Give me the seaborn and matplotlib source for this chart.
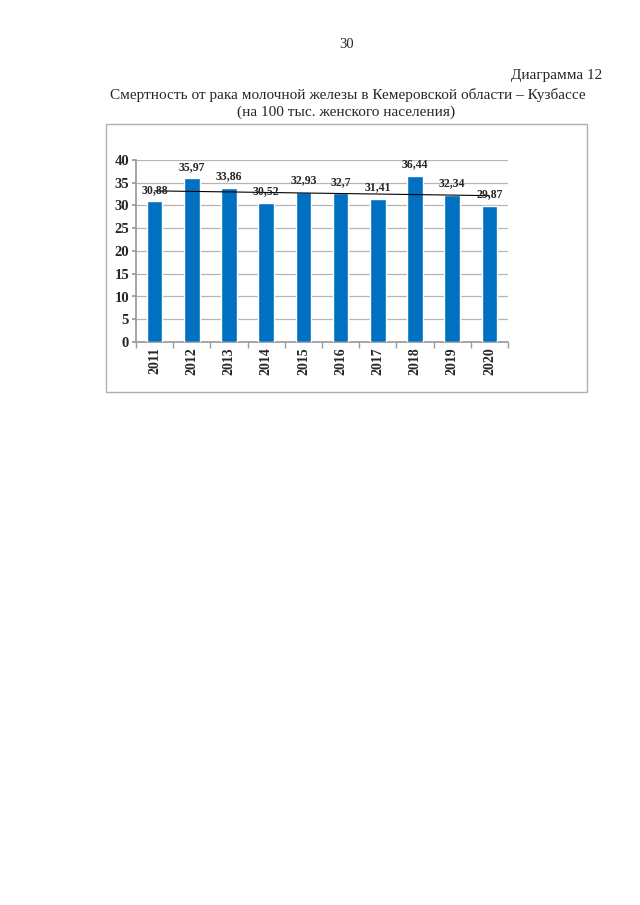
import numpy as np
import pandas as pd
import seaborn as sns
import matplotlib.pyplot as plt
from matplotlib.patches import Rectangle

years = ['2011', '2012', '2013', '2014', '2015', '2016', '2017', '2018', '2019', '2020']
rates = [30.88, 35.97, 33.86, 30.52, 32.93, 32.7, 31.41, 36.44, 32.34, 29.87]
labels = ['30,88', '35,97', '33,86', '30,52', '32,93', '32,7', '31,41', '36,44', '32,34', '29,87']

df = pd.DataFrame({'year': years, 'rate': rates})

sns.set_theme(style="white")
plt.rcParams['font.family'] = ['Liberation Serif', 'DejaVu Serif']

fig = plt.figure(figsize=(6.4, 9.05), dpi=100)
fig.patch.set_facecolor('white')

# page text
fig.text(347 / 640, 1 - 45 / 905, '30', ha='center', va='center', fontsize=10.5)
fig.text(602 / 640, 1 - 76 / 905, 'Диаграмма 12', ha='right', va='center', fontsize=11)
fig.text(348 / 640, 1 - 95 / 905, 'Смертность от рака молочной железы в Кемеровской области – Кузбассе',
         ha='center', va='center', fontsize=11)
fig.text(346 / 640, 1 - 112 / 905, '(на 100 тыс. женского населения)', ha='center', va='center', fontsize=11)

# chart frame
fig.patches.append(Rectangle((106 / 640, 1 - 392 / 905), 481 / 640, 268 / 905,
                             transform=fig.transFigure, fill=False, edgecolor='#b0b0b0', linewidth=1))

ax = fig.add_axes([136 / 640, 1 - 342 / 905, 372 / 640, 182 / 905])
sns.barplot(data=df, x='year', y='rate', order=years, color='#0070C0', saturation=1,
            width=0.42, ax=ax, zorder=3)

# linear trend
pos = np.arange(len(years))
k, b = np.polyfit(pos, rates, 1)
ax.plot(pos, k * pos + b, color='black', linewidth=0.8, zorder=4)

for i, (v, t) in enumerate(zip(rates, labels)):
    ax.annotate(t, (i, v), xytext=(0, 4), textcoords='offset points', ha='center', va='bottom',
                fontsize=8.5, fontweight='bold', zorder=5)

ax.set_ylim(0, 40)
ax.set_xlim(-0.5, len(years) - 0.5)
ax.set_yticks(np.arange(0, 41, 5))
ax.yaxis.grid(True, color='#b5b5b5', linewidth=0.9, zorder=0)
ax.set_axisbelow(True)
ax.set_xlabel(None)
ax.set_ylabel(None)
for s in ['top', 'right']:
    ax.spines[s].set_visible(False)
ax.spines['left'].set_color('#9a9a9a')
ax.spines['bottom'].set_color('#9a9a9a')

ax.set_xticks(pos)
ax.set_xticklabels(years, rotation=90, fontsize=10, fontweight='bold')
ax.set_xticks(np.arange(-0.5, len(years), 1), minor=True)
ax.tick_params(axis='x', which='major', length=0, pad=4)
ax.tick_params(axis='x', which='minor', length=4, color='#9a9a9a', direction='out', bottom=True)
ax.tick_params(axis='y', length=3, color='#9a9a9a', direction='out', left=True, labelsize=10.5, pad=2)
for lab in ax.get_yticklabels():
    lab.set_fontweight('bold')

fig.savefig('out.png', dpi=100, facecolor='white')
